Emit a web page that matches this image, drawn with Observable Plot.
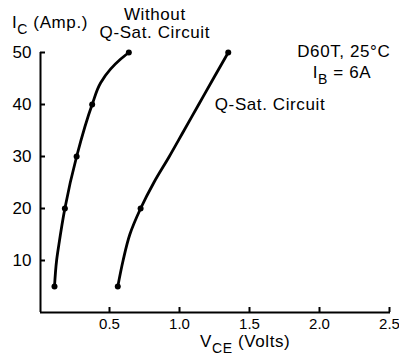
<!DOCTYPE html>
<html>
<head>
<meta charset="utf-8">
<script src="https://cdn.jsdelivr.net/npm/d3@7"></script>
<script src="https://cdn.jsdelivr.net/npm/@observablehq/plot@0.6"></script>
<style>
  html, body { margin: 0; padding: 0; background: #fff; }
</style>
</head>
<body>
<div id="chart"></div>
<script>
// Curve without Q-Sat circuit: V_CE (V) vs I_C (A)
const withoutVce = [0.100, 0.115, 0.131, 0.174, 0.258, 0.369, 0.430, 0.500, 0.571, 0.631];
const withoutIc  = [5, 10, 13, 20, 30, 40, 44.2, 46.8, 48.7, 50];
const withoutMarkIc = [5, 20, 30, 40, 50];

// Curve with Q-Sat circuit
const qsatVce = [0.552, 0.590, 0.638, 0.715, 0.810, 0.920, 1.025, 1.130, 1.235, 1.341];
const qsatIc  = [5, 10, 15, 20, 25, 30, 35, 40, 45, 50];
const qsatMarkIc = [5, 20, 50];

const xTicks = [0.5, 1.0, 1.5, 2.0, 2.5];
const yTicks = [10, 20, 30, 40, 50];

const withoutData = withoutVce.map((v, i) => ({v, i: withoutIc[i]}));
const qsatData = qsatVce.map((v, i) => ({v, i: qsatIc[i]}));
const withoutMarks = withoutData.filter(d => withoutMarkIc.includes(d.i));
const qsatMarks = qsatData.filter(d => qsatMarkIc.includes(d.i));

const plot = Plot.plot({
  width: 399,
  height: 362,
  marginLeft: 40,
  marginRight: 9,
  marginTop: 52,
  marginBottom: 50,
  style: {fontFamily: "'Liberation Sans', Arial, sans-serif", fontSize: "16px", color: "#000", background: "#fff"},
  x: {domain: [0, 2.5]},
  y: {domain: [0, 50]},
  marks: [
    Plot.ruleY([0], {stroke: "#000", strokeWidth: 2}),
    Plot.ruleX([0], {stroke: "#000", strokeWidth: 2}),
    Plot.axisX({ticks: xTicks, tickSize: -5, tickPadding: 11, strokeWidth: 2, fontSize: 15, dx: -1, tickFormat: d => d.toFixed(1), label: null}),
    Plot.axisY({ticks: yTicks, tickSize: -5, tickPadding: 14, strokeWidth: 2, fontSize: 17, tickFormat: d => String(d), label: null}),
    Plot.line(withoutData, {x: "v", y: "i", curve: "monotone-y", stroke: "#000", strokeWidth: 2.8}),
    Plot.line(qsatData, {x: "v", y: "i", curve: "monotone-y", stroke: "#000", strokeWidth: 2.8}),
    Plot.dot(withoutMarks, {x: "v", y: "i", r: 3, fill: "#000"}),
    Plot.dot(qsatMarks, {x: "v", y: "i", r: 3, fill: "#000"})
  ]
});

// annotations (data coordinates), parts: [text, isSubscript]
const annotations = [
  {x: 0.82, y: 56.1, anchor: "middle", parts: [["Without", false]]},
  {x: 0.82, y: 52.6, anchor: "middle", parts: [["Q-Sat. Circuit", false]]},
  {x: 2.17, y: 49.0, anchor: "middle", parts: [["D60T, 25°C", false]]},
  {x: 2.157, y: 45.0, anchor: "middle", parts: [["I", false], ["B", true], [" = 6A", false]]},
  {x: 1.643, y: 38.8, anchor: "middle", parts: [["Q-Sat. Circuit", false]]},
  {x: -0.2, y: 54.7, anchor: "start", parts: [["I", false], ["C", true], [" (Amp.)", false]]},
  {x: 1.143, y: -6.8, anchor: "start", parts: [["V", false], ["CE", true], [" (Volts)", false]]}
];

const sx = plot.scale("x"), sy = plot.scale("y");
const svg = d3.select(plot);
for (const a of annotations) {
  const t = svg.append("text")
    .attr("x", sx.apply(a.x))
    .attr("y", sy.apply(a.y))
    .attr("text-anchor", a.anchor)
    .attr("fill", "#000")
    .style("font-size", "17px")
    .style("letter-spacing", "0.6px");
  let shifted = false;
  for (const [txt, sub] of a.parts) {
    const ts = t.append("tspan").text(txt);
    if (sub && !shifted) { ts.attr("dy", 6).style("font-size", "14px"); shifted = true; }
    else if (!sub && shifted) { ts.attr("dy", -6); shifted = false; }
  }
}

document.getElementById("chart").appendChild(plot);
</script>
</body>
</html>
